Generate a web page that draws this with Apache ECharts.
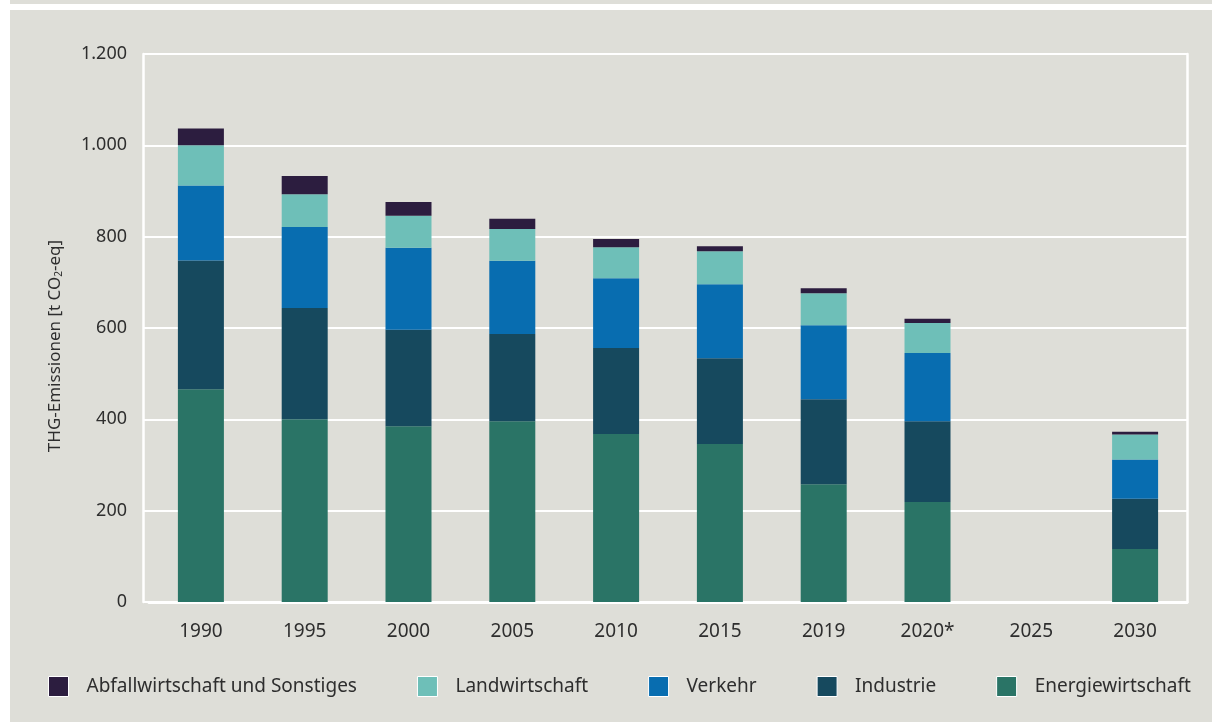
<!DOCTYPE html>
<html>
<head>
<meta charset="utf-8">
<script src="https://cdn.jsdelivr.net/npm/echarts@6/dist/echarts.min.js"></script>
<style>
  html, body { margin: 0; padding: 0; background: #ffffff; }
  body { width: 1212px; height: 722px; position: relative; overflow: hidden; }
  #strip { position: absolute; left: 10px; top: 0; width: 1202px; height: 4px; background: #deded8; }
  #chart { position: absolute; left: 10px; top: 10px; width: 1202px; height: 712px; background: #deded8; }
</style>
</head>
<body>
<div id="strip"></div>
<div id="chart"></div>
<script>
// Treibhausgas-Emissionen nach Sektoren
const years = ['1990', '1995', '2000', '2005', '2010', '2015', '2019', '2020*', '2025', '2030'];
const energiewirtschaft = [466, 400, 385, 396, 368, 346, 258, 219, null, 116];
const industrie = [282, 244, 211, 191, 188, 188, 186, 177, null, 110];
const verkehr = [164, 177, 180, 160, 153, 162, 162, 149, null, 86];
const landwirtschaft = [88, 72, 70, 70, 68, 72, 70, 66, null, 55];
const abfallwirtschaft = [37, 40, 30, 22, 18, 11, 11, 9, null, 6];
const yTicks = [0, 200, 400, 600, 800, 1000, 1200];

const FONT = '"Noto Sans", sans-serif';
const TEXT = '#2e2e2e';

const chart = echarts.init(document.getElementById('chart'));

function bar(name, data, color) {
  return {
    name: name,
    type: 'bar',
    stack: 'total',
    barWidth: 46,
    data: data,
    itemStyle: { color: color },
    emphasis: { disabled: true }
  };
}

chart.setOption({
  animation: false,
  textStyle: { fontFamily: FONT },
  grid: { left: 139, top: 44, width: 1038, height: 548 },
  xAxis: {
    type: 'category',
    data: years,
    axisLine: { lineStyle: { color: '#ffffff', width: 3 } },
    axisTick: { show: false },
    axisLabel: { color: TEXT, fontSize: 19, margin: 20, fontFamily: FONT }
  },
  yAxis: [{
    type: 'value',
    min: yTicks[0],
    max: yTicks[yTicks.length - 1],
    interval: 200,
    offset: 6,
    axisLine: { show: true, lineStyle: { color: '#ffffff', width: 2.5 } },
    axisTick: { show: true, inside: true, length: 6, lineStyle: { color: '#ffffff', width: 2 } },
    splitLine: { lineStyle: { color: '#ffffff', width: 2 } },
    axisLabel: {
      color: TEXT, fontSize: 18, margin: 16, fontFamily: FONT,
      formatter: v => v.toLocaleString('de-DE')
    }
  }, {
    type: 'value',
    position: 'right',
    min: 0,
    max: 1200,
    interval: 200,
    axisLine: { show: true, lineStyle: { color: '#ffffff', width: 2.5 } },
    axisTick: { show: false },
    axisLabel: { show: false },
    splitLine: { show: false }
  }],
  legend: {
    left: 33,
    top: 661,
    itemWidth: 20,
    itemHeight: 20,
    itemGap: 60,
    icon: 'rect',
    itemStyle: { borderColor: '#ffffff', borderWidth: 1 },
    textStyle: { color: TEXT, fontSize: 19, fontFamily: FONT, padding: [0, 0, 0, 13] },
    data: ['Abfallwirtschaft und Sonstiges', 'Landwirtschaft', 'Verkehr', 'Industrie', 'Energiewirtschaft'],
    selectedMode: false
  },
  graphic: [{
    type: 'text',
    x: 45,
    y: 336,
    rotation: Math.PI / 2,
    style: {
      text: '{a|THG-Emissionen [t CO}{s|2}{a|-eq]}',
      align: 'center',
      verticalAlign: 'middle',
      rich: {
        a: { fontSize: 17, fontFamily: FONT, fill: TEXT },
        s: { fontSize: 10, fontFamily: FONT, fill: TEXT, padding: [8, 0, 0, 0] }
      }
    }
  }],
  series: [
    bar('Energiewirtschaft', energiewirtschaft, '#2a7466'),
    bar('Industrie', industrie, '#16495e'),
    bar('Verkehr', verkehr, '#086db0'),
    bar('Landwirtschaft', landwirtschaft, '#6ebfb8'),
    bar('Abfallwirtschaft und Sonstiges', abfallwirtschaft, '#2c1d3f')
  ]
});
</script>
</body>
</html>
